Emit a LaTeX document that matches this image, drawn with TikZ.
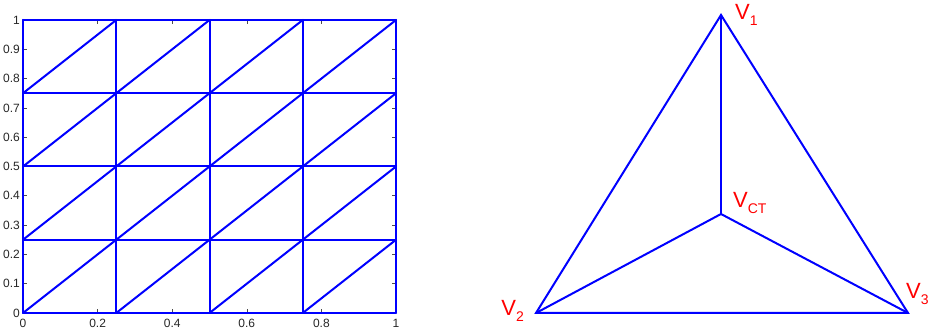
\documentclass[tikz,border=0pt]{standalone}
\usepackage{fontspec}
\setmainfont{Liberation Sans}
\usepackage{xcolor}
\usepackage{tikz}
\usetikzlibrary{positioning}
\newcommand{\vsub}[1]{\raisebox{-0.3em}{\fontsize{14}{14}\selectfont #1}}
\tikzset{
  mesh/.style={blue,line width=2pt,line cap=round},
  ticklab/.style={font=\fontsize{12}{14}\selectfont,text=black!85,inner sep=0pt},
  vlabel/.style={text=red,font=\fontsize{22}{24}\selectfont,inner sep=0pt}
}

\begin{document}
\begin{tikzpicture}[x=1pt,y=1pt]
\useasboundingbox (0,0) rectangle (928,331);
% unit square mesh
\begin{scope}[shift={(23pt,18pt)},x=373pt,y=293pt]
\foreach \t in {0,0.1,0.2,0.3,0.4,0.5,0.6,0.7,0.8,0.9,1}{
  \coordinate (yt) at (0,\t);
  \draw[black!70,line width=0.6pt] (yt) -- ++(4pt,0);
  \draw[black!70,line width=0.6pt] (1,\t) -- ++(-4pt,0);
  \node[ticklab,left=3pt of yt,anchor=east] (ylab) {\t};
}
\foreach \t in {0,0.2,0.4,0.6,0.8,1}{
  \coordinate (xt) at (\t,0);
  \draw[black!70,line width=0.6pt] (xt) -- ++(0,4pt);
  \draw[black!70,line width=0.6pt] (\t,1) -- ++(0,-4pt);
  \node[ticklab,below=6pt of xt,anchor=north] (xlab) {\t};
}
\foreach \k in {0,0.25,0.5,0.75,1}{
  \draw[mesh] (\k,0) -- (\k,1);
  \draw[mesh] (0,\k) -- (1,\k);
}
\foreach \i in {0,0.25,0.5,0.75}
  \foreach \j in {0,0.25,0.5,0.75}
    \draw[mesh] (\i,\j) -- ++(0.25,0.25);
\end{scope}
% triangle split at its centroid
\coordinate (V1) at (721,316);
\coordinate (V2) at (536,18);
\coordinate (V3) at (908,18);
\coordinate (VCT) at (721,117);
\draw[mesh,line join=miter] (V1) -- (V2) -- (V3) -- cycle;
\draw[mesh] (V1) -- (VCT);
\draw[mesh] (V2) -- (VCT) -- (V3);
\node[vlabel,right=14pt of V1] (lab1) {V\vsub{1}};
\node[vlabel,left=12pt of V2,yshift=2pt] (lab2) {V\vsub{2}};
\node[vlabel,above right=8pt and -2pt of V3] (lab3) {V\vsub{3}};
\node[vlabel,above right=0pt and 12pt of VCT] (labct) {V\vsub{CT}};
\end{tikzpicture}
\end{document}
